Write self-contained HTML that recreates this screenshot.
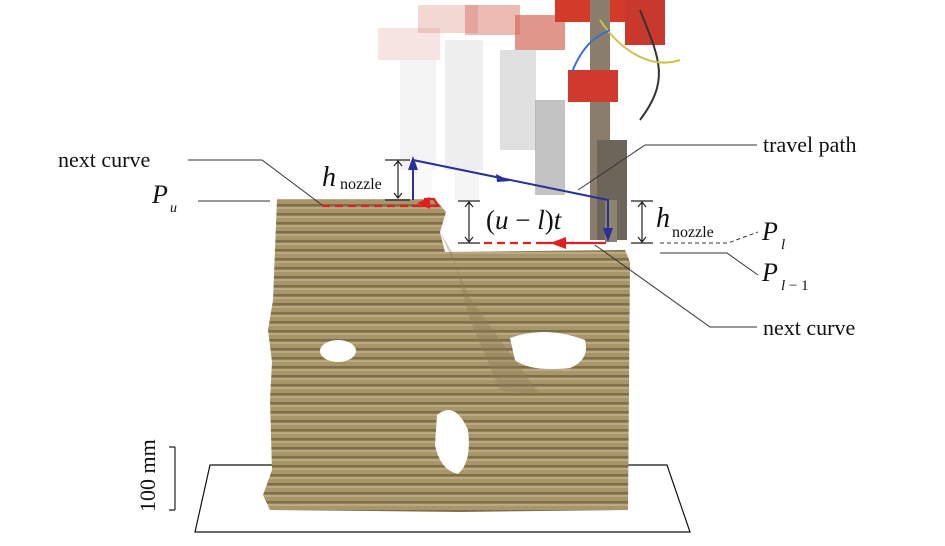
<!DOCTYPE html>
<html><head><meta charset="utf-8"><style>
html,body{margin:0;padding:0;background:#fff;}
svg{display:block;}
text{font-family:"Liberation Serif",serif;fill:#111;}
</style></head><body>
<svg width="945" height="546" viewBox="0 0 945 546" xmlns="http://www.w3.org/2000/svg">
<defs>
<pattern id="stripes" width="10" height="9" patternUnits="userSpaceOnUse">
<rect width="10" height="9" fill="#a8956a"/>
<rect y="6" width="10" height="2.5" fill="#7f6f48"/>
<rect y="0" width="10" height="2" fill="#bba984"/>
</pattern>
</defs>
<!-- faded robot ghosts -->
<g opacity="0.22">
<rect x="378" y="28" width="62" height="32" fill="#d98a80"/>
<rect x="400" y="60" width="36" height="110" fill="#ccc"/>
<rect x="408" y="165" width="24" height="40" fill="#e5e5e5"/>
</g>
<g opacity="0.3">
<rect x="418" y="5" width="60" height="28" fill="#d77e70"/>
<rect x="445" y="40" width="38" height="130" fill="#c8c8c8"/>
<rect x="455" y="170" width="24" height="30" fill="#e0e0e0"/>
</g>
<g opacity="0.45">
<rect x="465" y="5" width="55" height="30" fill="#d46a5a"/>
<rect x="500" y="50" width="36" height="100" fill="#bbb"/>
</g>
<g opacity="0.7">
<rect x="515" y="15" width="50" height="35" fill="#d46a5a"/>
<rect x="535" y="100" width="30" height="95" fill="#aaa"/>
</g>
<!-- main robot -->
<rect x="555" y="0" width="70" height="22" fill="#d33a2a"/>
<rect x="590" y="0" width="20" height="240" fill="#8a7d6c"/>
<rect x="625" y="0" width="40" height="45" fill="#c9382c"/>
<rect x="568" y="70" width="50" height="32" fill="#d03a2c"/>
<rect x="597" y="140" width="30" height="100" fill="#6e655a"/>
<rect x="605" y="200" width="12" height="42" fill="#8b826f"/>
<path d="M640,10 C660,60 670,80 640,120" stroke="#333" stroke-width="2" fill="none"/>
<path d="M600,20 C620,50 650,70 680,60" stroke="#cfc24a" stroke-width="2" fill="none"/>
<path d="M572,72 C585,40 600,35 610,30" stroke="#3a6fd0" stroke-width="2" fill="none"/>
<!-- base plane -->
<path d="M210,465 L667,465 L690,532 L195,532 Z" fill="#fff" stroke="#111" stroke-width="1.2"/>
<!-- sculpture -->
<path d="M277,199 L435,199 L446,212 L440,232 L445,252 L625,250 L630,262 L628,510 L460,512 L270,510 L263,495 L272,470 L270,400 L272,362 L268,330 L273,300 Z" fill="url(#stripes)"/>
<path d="M440,232 L452,252 L470,320 L500,390 L540,395 L470,298 Z" fill="#8d7d56" opacity="0.4"/>
<ellipse cx="338" cy="351" rx="18" ry="11" fill="#fff"/>
<path d="M510,338 Q545,325 585,340 Q590,360 570,368 Q530,372 515,360 Z" fill="#fff"/>
<path d="M437,415 Q455,400 468,430 Q472,462 458,474 Q440,470 435,445 Z" fill="#fff"/>
<!-- leader lines -->
<g stroke="#333" stroke-width="1" fill="none">
<path d="M188,160 L262,160 L322,205"/>
<path d="M198,201 L270,201"/>
<path d="M757,145 L645,145 L578,190"/>
<path d="M757,327 L710,327 L595,245"/>
<path d="M660,253 L727,253 L758,275"/>
<path d="M660,243 L728,243 L758,232" stroke-dasharray="4,3"/>
</g>
<!-- dimension arrows -->
<g stroke="#222" stroke-width="1.2" fill="none">
<path d="M385,160 L410,160 M385,200 L410,200 M398,162 L398,198 M394,166 L398,161 L402,166 M394,193 L398,198 L402,193"/>
<path d="M458,201 L480,201 M458,243 L480,243 M469,203 L469,241 M465,207 L469,202 L473,207 M465,237 L469,242 L473,237"/>
<path d="M631,201 L653,201 M631,243 L653,243 M642,203 L642,241 M638,207 L642,202 L646,207 M638,237 L642,242 L646,237"/>
<path d="M175,447 L175,510 M169,447 L175,447 M169,510 L175,510"/>
</g>
<!-- blue travel path -->
<g stroke="#2b2f9a" stroke-width="2" fill="none">
<path d="M413,200 L413,166"/>
<path d="M413,160 L608,200 L608,234"/>
</g>
<path d="M408,170 L413,156 L418,170 Z" fill="#2b2f9a"/>
<path d="M603,228 L608,242 L613,228 Z" fill="#2b2f9a"/>
<path d="M496,174 L510,181 L497,182 Z" fill="#2b2f9a"/>
<!-- red paths -->
<g stroke="#e02020" stroke-width="2.2" fill="none">
<path d="M322,206 L412,206" stroke-dasharray="8,5"/>
<path d="M412,206 L438,206 L434,199 L424,199"/>
<path d="M484,243 L540,243" stroke-dasharray="8,5"/>
<path d="M540,243 L606,243"/>
</g>
<path d="M417,203 L430,197 L430,209 Z" fill="#e02020"/>
<path d="M550,243 L566,237 L566,249 Z" fill="#e02020"/>
<!-- labels -->
<text x="58" y="167" font-size="22">next curve</text>
<text x="152" y="203" font-size="26" font-style="italic">P</text>
<text x="170" y="212" font-size="14" font-style="italic">u</text>
<text x="322" y="186" font-size="28" font-style="italic">h</text>
<text x="340" y="189" font-size="16">nozzle</text>
<text x="486" y="229" font-size="27"><tspan>(</tspan><tspan font-style="italic">u</tspan><tspan> − </tspan><tspan font-style="italic">l</tspan><tspan>)</tspan><tspan font-style="italic">t</tspan></text>
<text x="656" y="227" font-size="28" font-style="italic">h</text>
<text x="672" y="237" font-size="16">nozzle</text>
<text x="763" y="152" font-size="22">travel path</text>
<text x="762" y="240" font-size="26" font-style="italic">P</text>
<text x="781" y="249" font-size="15" font-style="italic">l</text>
<text x="762" y="281" font-size="26" font-style="italic">P</text>
<text x="781" y="290" font-size="15"><tspan font-style="italic">l</tspan> − 1</text>
<text x="763" y="335" font-size="22">next curve</text>
<text transform="translate(155,512) rotate(-90)" font-size="22">100 mm</text>
</svg>
</body></html>
